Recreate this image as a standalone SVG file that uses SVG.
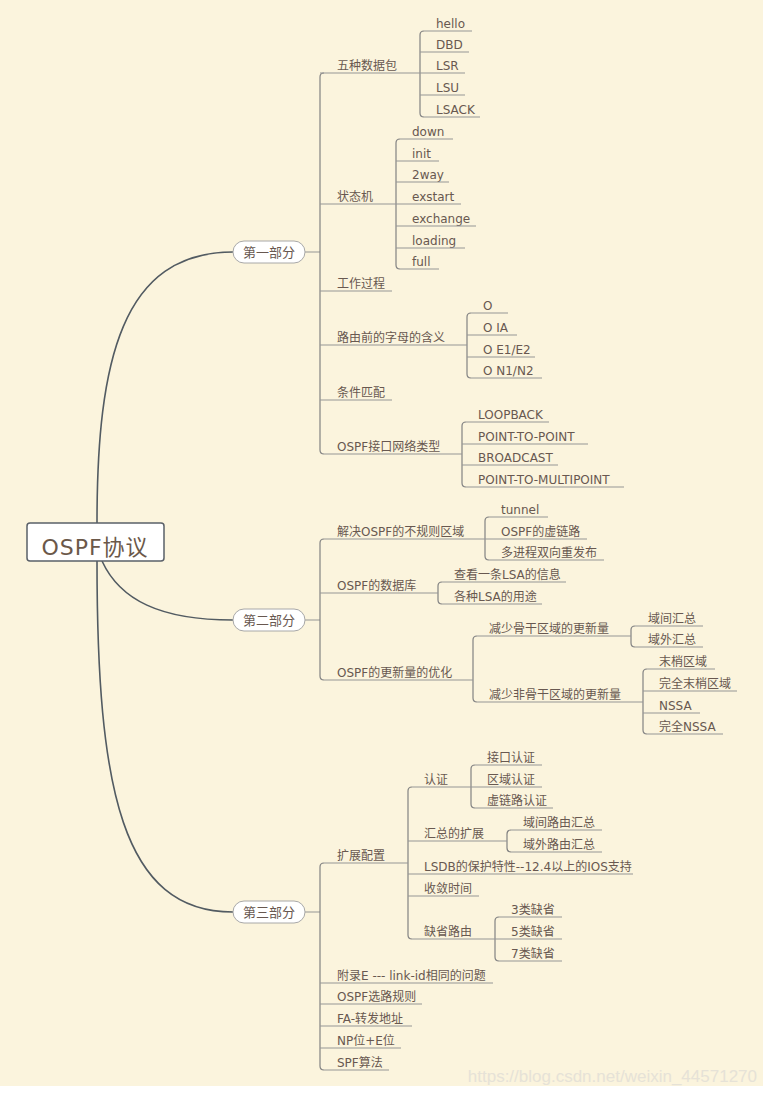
<svg xmlns="http://www.w3.org/2000/svg" width="768" height="1094" viewBox="0 0 768 1094">
<style>
.t{font-family:"DejaVu Sans","Noto Sans CJK SC",sans-serif;font-size:12px;fill:#685850}
.u{stroke:#969696;stroke-width:1.2;fill:none}
.b{stroke:#828282;stroke-width:1.2;fill:none}
.m{stroke:#525B62;stroke-width:1.6;fill:none}
.pn{fill:#FFFFFF;stroke:#A8A8A8;stroke-width:1}
.pt{font-family:"DejaVu Sans","Noto Sans CJK SC",sans-serif;font-size:13px;fill:#685850;text-anchor:middle}
</style>
<rect x="0" y="0" width="768" height="1094" fill="#FFFFFF"/>
<rect x="0" y="0" width="763" height="1086" fill="#FBF4DD"/>
<text x="757" y="1082" font-family="Liberation Sans, Arial, sans-serif" font-size="17" fill="#E6E2D7" text-anchor="end">https://blog.csdn.net/weixin_44571270</text>

<g id="connectors">
  <path class="m" d="M97,523 C97,360 122,252 233,252"/>
  <path class="m" d="M102,561 C120,600 160,620 233,620"/>
  <path class="m" d="M97,561 C97,790 122,912 233,912"/>
  <path class="u" d="M305,252 H320 M305,620 H320 M305,912 H320"/>
  <path class="b" d="M324,73 Q320,73 320,77 V450 Q320,454 324,454"/>
  <path class="b" d="M424,31 Q420,31 420,35 V113 Q420,117 424,117"/>
  <path class="b" d="M400,139 Q396,139 396,143 V265 Q396,269 400,269"/>
  <path class="b" d="M471,313 Q467,313 467,317 V374 Q467,378 471,378"/>
  <path class="b" d="M466,422 Q462,422 462,426 V483 Q462,487 466,487"/>
  <path class="b" d="M324,539 Q320,539 320,543 V676 Q320,680 324,680"/>
  <path class="b" d="M489,517 Q485,517 485,521 V556 Q485,560 489,560"/>
  <path class="b" d="M442,582 Q438,582 438,586 V600 Q438,604 442,604"/>
  <path class="b" d="M477,636 Q473,636 473,640 V698 Q473,702 477,702"/>
  <path class="b" d="M635,626 Q631,626 631,630 V643 Q631,647 635,647"/>
  <path class="b" d="M647,669 Q643,669 643,673 V730 Q643,734 647,734"/>
  <path class="b" d="M324,863 Q320,863 320,867 V1066 Q320,1070 324,1070"/>
  <path class="b" d="M412,787 Q408,787 408,791 V935 Q408,939 412,939"/>
  <path class="b" d="M475,765 Q471,765 471,769 V804 Q471,808 475,808"/>
  <path class="b" d="M511,830 Q507,830 507,834 V848 Q507,852 511,852"/>
  <path class="b" d="M499,917 Q495,917 495,921 V957 Q495,961 499,961"/>
</g>

<g id="n-root">
  <rect x="27" y="523" width="137" height="38" rx="3" fill="#FFFFFF" stroke="#5A6068" stroke-width="1.5"/>
  <text x="95" y="555" font-family="DejaVu Sans, Noto Sans CJK SC, sans-serif" font-size="22" letter-spacing="1" fill="#6B5849" text-anchor="middle">OSPF协议</text>
</g>

<g id="n-p1"><rect class="pn" x="233" y="241" width="72" height="22" rx="11"/><text class="pt" x="269" y="257">第一部分</text></g>
<g id="n-p2"><rect class="pn" x="233" y="609" width="72" height="22" rx="11"/><text class="pt" x="269" y="625">第二部分</text></g>
<g id="n-p3"><rect class="pn" x="233" y="901" width="72" height="22" rx="11"/><text class="pt" x="269" y="917">第三部分</text></g>

<g id="n-wuzhong"><text class="t" x="337" y="70">五种数据包</text><path class="u" d="M320,73 H420"/></g>
<g id="n-hello"><text class="t" x="436" y="28">hello</text><path class="u" d="M424,31 H472"/></g>
<g id="n-dbd"><text class="t" x="436" y="49">DBD</text><path class="u" d="M420,52 H469"/></g>
<g id="n-lsr"><text class="t" x="436" y="70">LSR</text><path class="u" d="M420,73 H465"/></g>
<g id="n-lsu"><text class="t" x="436" y="92">LSU</text><path class="u" d="M420,95 H465"/></g>
<g id="n-lsack"><text class="t" x="436" y="114">LSACK</text><path class="u" d="M424,117 H480"/></g>

<g id="n-state"><text class="t" x="337" y="201">状态机</text><path class="u" d="M320,204 H396"/></g>
<g id="n-down"><text class="t" x="412" y="136">down</text><path class="u" d="M400,139 H453"/></g>
<g id="n-init"><text class="t" x="412" y="158">init</text><path class="u" d="M396,161 H439"/></g>
<g id="n-2way"><text class="t" x="412" y="179">2way</text><path class="u" d="M396,182 H449"/></g>
<g id="n-exstart"><text class="t" x="412" y="201">exstart</text><path class="u" d="M396,204 H461"/></g>
<g id="n-exchange"><text class="t" x="412" y="223">exchange</text><path class="u" d="M396,226 H476"/></g>
<g id="n-loading"><text class="t" x="412" y="245">loading</text><path class="u" d="M396,248 H465"/></g>
<g id="n-full"><text class="t" x="412" y="266">full</text><path class="u" d="M400,269 H439"/></g>

<g id="n-work"><text class="t" x="337" y="288">工作过程</text><path class="u" d="M320,291 H392"/></g>

<g id="n-letters"><text class="t" x="337" y="342">路由前的字母的含义</text><path class="u" d="M320,345 H467"/></g>
<g id="n-o"><text class="t" x="483" y="310">O</text><path class="u" d="M471,313 H508"/></g>
<g id="n-oia"><text class="t" x="483" y="332">O IA</text><path class="u" d="M467,335 H517"/></g>
<g id="n-oe"><text class="t" x="483" y="354">O E1/E2</text><path class="u" d="M467,357 H535"/></g>
<g id="n-on"><text class="t" x="483" y="375">O N1/N2</text><path class="u" d="M471,378 H542"/></g>

<g id="n-cond"><text class="t" x="337" y="397">条件匹配</text><path class="u" d="M320,400 H392"/></g>

<g id="n-iftype"><text class="t" x="337" y="451">OSPF接口网络类型</text><path class="u" d="M324,454 H462"/></g>
<g id="n-loop"><text class="t" x="478" y="419">LOOPBACK</text><path class="u" d="M466,422 H549"/></g>
<g id="n-p2p"><text class="t" x="478" y="441">POINT-TO-POINT</text><path class="u" d="M462,444 H588"/></g>
<g id="n-bcast"><text class="t" x="478" y="462">BROADCAST</text><path class="u" d="M462,465 H558"/></g>
<g id="n-p2mp"><text class="t" x="478" y="484">POINT-TO-MULTIPOINT</text><path class="u" d="M466,487 H624"/></g>

<g id="n-irregular"><text class="t" x="337" y="536">解决OSPF的不规则区域</text><path class="u" d="M324,539 H485"/></g>
<g id="n-tunnel"><text class="t" x="501" y="514">tunnel</text><path class="u" d="M489,517 H548"/></g>
<g id="n-vlink"><text class="t" x="501" y="536">OSPF的虚链路</text><path class="u" d="M485,539 H587"/></g>
<g id="n-redis"><text class="t" x="501" y="557">多进程双向重发布</text><path class="u" d="M489,560 H604"/></g>

<g id="n-db"><text class="t" x="337" y="590">OSPF的数据库</text><path class="u" d="M320,593 H438"/></g>
<g id="n-viewlsa"><text class="t" x="454" y="579">查看一条LSA的信息</text><path class="u" d="M442,582 H566"/></g>
<g id="n-lsause"><text class="t" x="454" y="601">各种LSA的用途</text><path class="u" d="M442,604 H542"/></g>

<g id="n-opt"><text class="t" x="337" y="677">OSPF的更新量的优化</text><path class="u" d="M324,680 H473"/></g>
<g id="n-backbone"><text class="t" x="489" y="633">减少骨干区域的更新量</text><path class="u" d="M477,636 H631"/></g>
<g id="n-inter"><text class="t" x="648" y="623">域间汇总</text><path class="u" d="M635,626 H703"/></g>
<g id="n-ext"><text class="t" x="648" y="644">域外汇总</text><path class="u" d="M635,647 H703"/></g>
<g id="n-nonbackbone"><text class="t" x="489" y="699">减少非骨干区域的更新量</text><path class="u" d="M477,702 H643"/></g>
<g id="n-stub"><text class="t" x="659" y="666">末梢区域</text><path class="u" d="M647,669 H715"/></g>
<g id="n-tstub"><text class="t" x="659" y="688">完全末梢区域</text><path class="u" d="M643,691 H737"/></g>
<g id="n-nssa"><text class="t" x="659" y="710">NSSA</text><path class="u" d="M643,713 H700"/></g>
<g id="n-tnssa"><text class="t" x="659" y="731">完全NSSA</text><path class="u" d="M647,734 H723"/></g>

<g id="n-ext-config"><text class="t" x="337" y="860">扩展配置</text><path class="u" d="M324,863 H408"/></g>
<g id="n-auth"><text class="t" x="424" y="784">认证</text><path class="u" d="M412,787 H471"/></g>
<g id="n-ifauth"><text class="t" x="487" y="762">接口认证</text><path class="u" d="M475,765 H542"/></g>
<g id="n-areaauth"><text class="t" x="487" y="784">区域认证</text><path class="u" d="M471,787 H542"/></g>
<g id="n-vlauth"><text class="t" x="487" y="805">虚链路认证</text><path class="u" d="M475,808 H553"/></g>
<g id="n-sumext"><text class="t" x="424" y="838">汇总的扩展</text><path class="u" d="M408,841 H507"/></g>
<g id="n-intersum"><text class="t" x="523" y="827">域间路由汇总</text><path class="u" d="M511,830 H602"/></g>
<g id="n-extsum"><text class="t" x="523" y="849">域外路由汇总</text><path class="u" d="M511,852 H602"/></g>
<g id="n-lsdb"><text class="t" x="424" y="871">LSDB的保护特性--12.4以上的IOS支持</text><path class="u" d="M408,874 H633"/></g>
<g id="n-conv"><text class="t" x="424" y="893">收敛时间</text><path class="u" d="M408,896 H479"/></g>
<g id="n-default"><text class="t" x="424" y="936">缺省路由</text><path class="u" d="M412,939 H495"/></g>
<g id="n-d3"><text class="t" x="511" y="914">3类缺省</text><path class="u" d="M499,917 H562"/></g>
<g id="n-d5"><text class="t" x="511" y="936">5类缺省</text><path class="u" d="M495,939 H562"/></g>
<g id="n-d7"><text class="t" x="511" y="958">7类缺省</text><path class="u" d="M499,961 H562"/></g>

<g id="n-appe"><text class="t" x="337" y="980">附录E --- link-id相同的问题</text><path class="u" d="M320,983 H493"/></g>
<g id="n-route"><text class="t" x="337" y="1001">OSPF选路规则</text><path class="u" d="M320,1004 H422"/></g>
<g id="n-fa"><text class="t" x="337" y="1023">FA-转发地址</text><path class="u" d="M320,1026 H412"/></g>
<g id="n-np"><text class="t" x="337" y="1045">NP位+E位</text><path class="u" d="M320,1048 H401"/></g>
<g id="n-spf"><text class="t" x="337" y="1067">SPF算法</text><path class="u" d="M324,1070 H389"/></g>
</svg>
